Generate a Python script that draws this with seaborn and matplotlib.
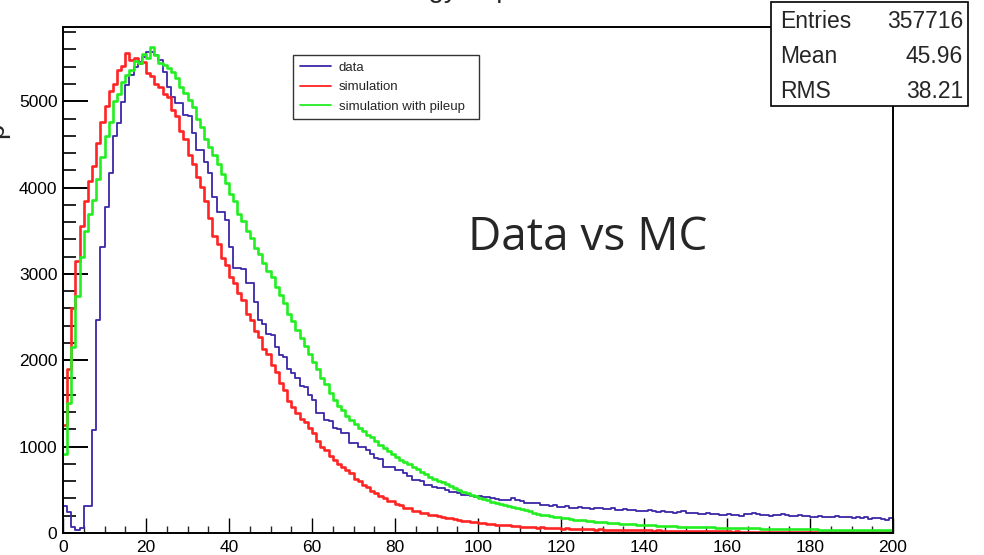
import numpy as np
import pandas as pd
import matplotlib
matplotlib.use("Agg")
import matplotlib.pyplot as plt
import seaborn as sns
from matplotlib.lines import Line2D
from matplotlib.patches import Rectangle

# ---------------- data (1-unit bins from 0 to 200) ----------------
bin_edges = list(range(0, 201))

data_counts = [
    310, 245, 70, 40, 55, 310, 315, 1190, 2465, 3310,
    3780, 4170, 4600, 4745, 4990, 5185, 5300, 5400, 5455, 5515,
    5570, 5575, 5530, 5475, 5340, 5165, 5050, 4980, 4975, 4840,
    4835, 4630, 4435, 4430, 4300, 4165, 3890, 3720, 3715, 3620,
    3310, 3070, 3065, 3060, 2895, 2890, 2675, 2465, 2420, 2310,
    2290, 2150, 2060, 2040, 1905, 1850, 1790, 1700, 1690, 1600,
    1540, 1385, 1390, 1308, 1300, 1211, 1205, 1160, 1154, 1038,
    1040, 999, 1000, 960, 910, 864, 860, 768, 770, 760,
    735, 729, 700, 660, 613, 610, 600, 556, 560, 530,
    517, 520, 500, 478, 470, 460, 440, 445, 430, 420,
    425, 418, 420, 405, 390, 382, 385, 380, 410, 382,
    370, 350, 345, 343, 350, 330, 320, 310, 320, 300,
    305, 310, 295, 290, 300, 285, 290, 280, 285, 290,
    280, 275, 290, 270, 265, 280, 266, 270, 255, 260,
    250, 265, 255, 247, 250, 240, 245, 235, 240, 250,
    235, 228, 230, 225, 220, 235, 215, 220, 210, 208,
    215, 205, 210, 200, 220, 225, 228, 215, 210, 205,
    200, 210, 205, 225, 208, 200, 195, 205, 200, 195,
    190, 189, 195, 185, 190, 180, 200, 185, 189, 180,
    175, 185, 170, 180, 165, 175, 170, 160, 150, 175,
]

sim_counts = [
    1250, 1900, 2600, 3150, 3550, 3850, 4080, 4250, 4520, 4760,
    4950, 5120, 5200, 5360, 5410, 5560, 5480, 5500, 5440, 5460,
    5330, 5290, 5200, 5170, 5080, 5050, 4900, 4830, 4660, 4560,
    4380, 4270, 4120, 4010, 3850, 3650, 3440, 3350, 3180, 3100,
    2960, 2900, 2780, 2700, 2540, 2470, 2340, 2270, 2130, 2070,
    1940, 1870, 1740, 1660, 1530, 1460, 1385, 1320, 1290, 1220,
    1160, 1060, 1000, 960, 890, 850, 800, 770, 725, 690,
    630, 600, 555, 530, 485, 460, 425, 410, 375, 365,
    340, 325, 295, 285, 255, 250, 230, 228, 210, 208,
    192, 188, 178, 172, 158, 155, 142, 140, 130, 128,
    116, 115, 106, 108, 98, 96, 90, 88, 82, 80,
    74, 72, 68, 66, 62, 64, 58, 60, 55, 56,
    52, 54, 48, 50, 46, 45, 42, 44, 40, 41,
    38, 39, 36, 37, 35, 34, 35, 32, 33, 30,
    30, 29, 28, 29, 26, 27, 25, 26, 24, 25,
    22, 23, 22, 21, 20, 21, 19, 20, 18, 19,
    18, 17, 18, 16, 17, 15, 16, 15, 14, 15,
    14, 13, 14, 12, 13, 12, 12, 11, 12, 11,
    11, 10, 11, 10, 10, 9, 10, 9, 9, 10,
    9, 8, 9, 8, 8, 9, 8, 7, 8, 7,
]

pileup_counts = [
    920, 1500, 2150, 2750, 3200, 3500, 3700, 3860, 4100, 4360,
    4600, 4760, 5000, 5080, 5220, 5300, 5360, 5470, 5440, 5550,
    5500, 5630, 5540, 5440, 5420, 5380, 5340, 5270, 5170, 5100,
    5010, 4930, 4800, 4700, 4560, 4470, 4380, 4270, 4160, 4050,
    3930, 3840, 3700, 3610, 3500, 3420, 3300, 3230, 3130, 3040,
    2960, 2850, 2760, 2660, 2540, 2450, 2350, 2260, 2160, 2070,
    1980, 1900, 1800, 1720, 1620, 1540, 1470, 1420, 1350, 1310,
    1260, 1220, 1180, 1140, 1110, 1060, 1020, 985, 950, 910,
    880, 850, 820, 795, 768, 740, 710, 680, 650, 620,
    600, 594, 565, 540, 520, 498, 475, 458, 440, 425,
    405, 392, 378, 362, 348, 335, 324, 310, 298, 288,
    275, 262, 250, 228, 222, 212, 205, 196, 188, 180,
    174, 170, 162, 156, 150, 145, 138, 135, 131, 126,
    122, 118, 115, 112, 110, 107, 104, 100, 98, 95,
    92, 90, 88, 85, 83, 80, 79, 77, 75, 74,
    73, 72, 70, 68, 67, 65, 64, 62, 60, 59,
    58, 57, 56, 55, 55, 54, 54, 53, 52, 51,
    50, 49, 48, 47, 46, 45, 45, 44, 43, 42,
    42, 41, 40, 40, 39, 38, 38, 37, 37, 36,
    36, 35, 35, 34, 35, 34, 33, 34, 33, 35,
]

series_names = ["data", "simulation", "simulation with pileup"]
series_colors = ["#3a28a8", "#ff2424", "#22ee22"]
series_widths = [1.3, 1.9, 1.9]

stats_labels = ["Entries", "Mean", "RMS"]
stats_values = ["357716", "45.96", "38.21"]

x_ticks = [0, 20, 40, 60, 80, 100, 120, 140, 160, 180, 200]
y_ticks = [0, 1000, 2000, 3000, 4000, 5000]

# ---------------- figure ----------------
sns.set_theme(style="white")
plt.rcParams["font.family"] = ["Liberation Sans", "DejaVu Sans"]

W, H = 984, 555
fig = plt.figure(figsize=(W / 100, H / 100), dpi=100)
ax = fig.add_axes([63 / W, 1 - 533 / H, (893 - 63) / W, (533 - 27) / H])

centers = [e + 0.5 for e in bin_edges[:-1]]
frames = []
for name, counts in zip(series_names, [data_counts, sim_counts, pileup_counts]):
    frames.append(pd.DataFrame({"x": centers, "count": counts, "series": name}))
df = pd.concat(frames, ignore_index=True)

for name, col, lw in zip(series_names, series_colors, series_widths):
    sub = df[df["series"] == name]
    sns.histplot(data=sub, x="x", weights="count", bins=bin_edges,
                 element="step", fill=False, color=col, linewidth=lw, ax=ax)

ax.set_xlim(0, 200)
ax.set_ylim(0, 5860)
ax.set_xlabel("")
ax.set_ylabel("")
ax.set_xticks(x_ticks)
ax.set_xticks(np.arange(0, 201, 5), minor=True)
ax.set_yticks(y_ticks)
ax.set_yticks(np.arange(0, 5860, 200), minor=True)
ax.set_xticklabels([str(t) for t in x_ticks])
ax.set_yticklabels([str(t) for t in y_ticks])

for s in ax.spines.values():
    s.set_linewidth(1.4)
    s.set_color("black")
ax.tick_params(axis="x", which="major", direction="in", length=11, width=1.0,
               labelsize=12.5, pad=5, colors="black", bottom=True, top=False)
ax.tick_params(axis="x", which="minor", direction="in", length=5.2, width=1.0,
               bottom=True, top=False)
ax.tick_params(axis="y", which="major", direction="in", length=18, width=1.4,
               labelsize=12.5, pad=4, colors="black", left=True, right=False)
ax.tick_params(axis="y", which="minor", direction="in", length=9, width=1.4,
               left=True, right=False)

# legend
handles = [Line2D([0], [0], color=c, lw=1.3) for c in series_colors]
leg = fig.legend(handles, series_names, loc="upper left",
                 bbox_to_anchor=(293 / W, 1 - 119 / H, 186 / W, 64 / H),
                 mode="expand", frameon=True,
                 fancybox=False, fontsize=9.5, handlelength=2.4,
                 handletextpad=0.55, borderpad=0.5, labelspacing=0.55,
                 borderaxespad=0)
leg.get_frame().set_edgecolor("black")
leg.get_frame().set_linewidth(1.0)

# stats box
box = Rectangle((771 / W, 1 - 106 / H), (968 - 771) / W, 104 / H,
                transform=fig.transFigure, facecolor="white",
                edgecolor="black", linewidth=1.2, zorder=10)
fig.add_artist(box)
for i, (lab, val) in enumerate(zip(stats_labels, stats_values)):
    yc = 1 - (22 + 34.5 * i) / H
    fig.text(780 / W, yc, lab, fontsize=16.5, va="center", ha="left", zorder=11)
    fig.text(963 / W, yc, val, fontsize=16.5, va="center", ha="right", zorder=11)

# annotation
fig.text(588 / W, 1 - 250 / H, "Data vs MC", fontsize=33, ha="center",
         va="baseline", family=["Open Sans", "DejaVu Sans"])

# cropped title and y-axis label remnants (cut off in the reference too)
fig.text(462 / W, 1 + 3 / H, "Energy deposit", fontsize=20, ha="center",
         va="baseline")
fig.text(9 / W, 1 - 130 / H, "p", fontsize=20, rotation=90, ha="right",
         va="center")

fig.savefig("out.png", dpi=100)
